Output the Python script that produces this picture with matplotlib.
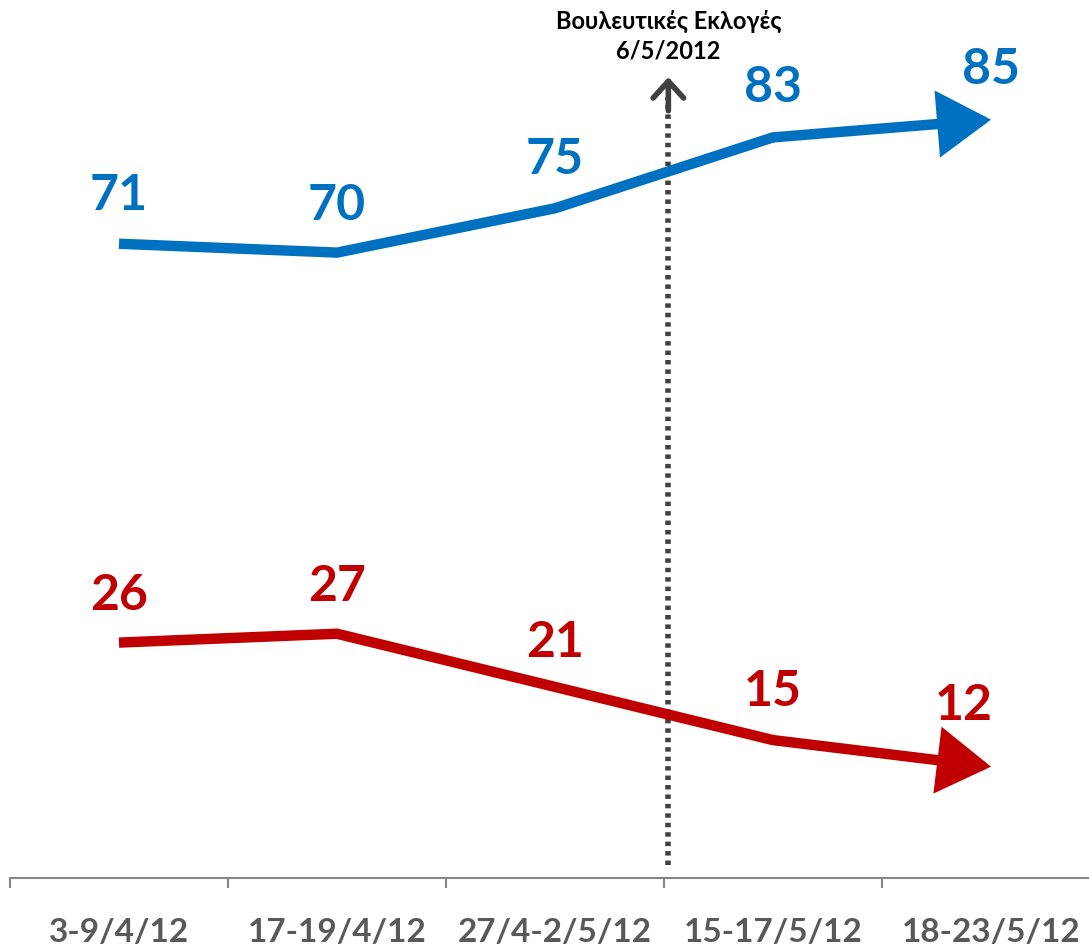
import matplotlib.pyplot as plt
from matplotlib.ticker import FixedLocator

# survey periods and the two series (%)
periods = ['3-9/4/12', '17-19/4/12', '27/4-2/5/12', '15-17/5/12', '18-23/5/12']
blue_vals = [71, 70, 75, 83, 85]
red_vals = [26, 27, 21, 15, 12]
event_text = 'Βουλευτικές Εκλογές\n6/5/2012'
event_pos = 2.52  # between 3rd and 4th period

BLUE = '#0070C0'
RED = '#C00000'

plt.rcParams['font.family'] = ['Lato', 'DejaVu Sans']

fig = plt.figure(figsize=(10.89, 9.49), dpi=100)
# 5 periods of ~218 px each, the last one runs a little past the right edge
ax = fig.add_axes([10 / 1089, 71 / 949, 1090 / 1089, 1 - 71 / 949])
ax.set_xlim(-0.5, 4.5)
ax.set_ylim(-0.56, 98.5)

x = list(range(len(periods)))


def draw_series(vals, color):
    # line through the first points, arrow on the last segment
    ax.plot(x[:-1], vals[:-1], color=color, lw=7.5, solid_capstyle='butt',
            solid_joinstyle='miter', zorder=3)
    ax.annotate('', xy=(x[-1], vals[-1]), xytext=(x[-2], vals[-2]),
                arrowprops=dict(arrowstyle='-|>,head_length=0.4,head_width=0.25',
                                mutation_scale=70, lw=7.5, color=color,
                                shrinkA=0, shrinkB=0, joinstyle='miter'),
                zorder=3)


draw_series(blue_vals, BLUE)
draw_series(red_vals, RED)

# value labels
blue_off = [(0, 35), (0, 34), (0, 35), (0, 36), (0, 36)]
red_off = [(0, 34), (0, 34), (0, 32), (0, 35), (-20, 44)]
for i, v in enumerate(blue_vals):
    ax.annotate(str(v), (x[i], v), xytext=blue_off[i], textcoords='offset points',
                ha='center', va='center', fontsize=36, fontweight='bold', color=BLUE)
for i, v in enumerate(red_vals):
    ax.annotate(str(v), (x[i], v), xytext=red_off[i], textcoords='offset points',
                ha='center', va='center', fontsize=36, fontweight='bold', color=RED)

# election marker
ax.plot([event_pos, event_pos], [0.9, 87.5], color='#404040', lw=4,
        linestyle=(0, (0.8, 0.9)), dash_capstyle='butt', zorder=2)
ax.annotate('', xy=(event_pos, 89.8), xytext=(event_pos, 86),
            arrowprops=dict(arrowstyle='->,head_length=0.55,head_width=0.5',
                            mutation_scale=22, lw=4, color='#404040',
                            shrinkA=0, shrinkB=0))
ax.text(event_pos, 91.5, event_text, ha='center', va='bottom', fontsize=17,
        fontweight='bold', color='black', linespacing=1.3)

# axes styling
for s in ['top', 'right', 'left']:
    ax.spines[s].set_visible(False)
ax.spines['bottom'].set_color('#868686')
ax.spines['bottom'].set_linewidth(1.5)
ax.set_yticks([])
ax.xaxis.set_major_locator(FixedLocator([-0.5, 0.5, 1.5, 2.5, 3.5, 4.5]))
ax.xaxis.set_minor_locator(FixedLocator(x))
ax.set_xticklabels([])
ax.set_xticklabels(periods, minor=True)
ax.tick_params(axis='x', which='major', length=7, width=1.5, color='#868686')
ax.tick_params(axis='x', which='minor', length=0, pad=29, labelsize=24,
               labelcolor='#595959')
for lbl in ax.get_xticklabels(minor=True):
    lbl.set_fontweight('bold')

fig.savefig('out.png', dpi=100)
